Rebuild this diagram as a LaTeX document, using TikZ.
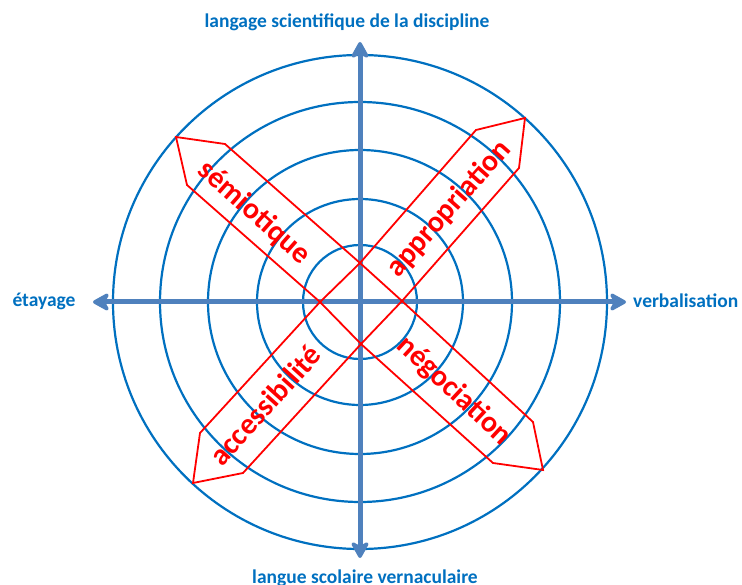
\documentclass[tikz,border=0pt]{standalone}
\usepackage{fontspec}
\setmainfont{Carlito}
\usetikzlibrary{arrows.meta}
\definecolor{ringblue}{HTML}{0070C0}
\definecolor{axisblue}{HTML}{4F81BD}
\definecolor{bandred}{HTML}{FF0000}
\tikzset{
  ring/.style={draw=ringblue, line width=2.2pt},
  axis/.style={draw=axisblue, line width=5pt,
    {Stealth[length=20pt,width=22pt,inset=6pt,round]}-{Stealth[length=20pt,width=22pt,inset=6pt,round]}},
  band/.style={draw=bandred, line width=1.8pt, line join=miter},
  bandlabel/.style={text=bandred, font=\bfseries\fontsize{30}{32}\selectfont, inner sep=0pt},
  axislabel/.style={text=ringblue, font=\bfseries\fontsize{19.5}{22}\selectfont, inner sep=0pt}
}
\begin{document}
\begin{tikzpicture}[x=1pt,y=-1pt]
\useasboundingbox (0,0) rectangle (742,585);
\coordinate (O) at (360,302);
% rings
\foreach \r in {57,103,152,200,247}
  \draw[ring] (O) circle[radius=\r];
% axes
\coordinate (W) at (93,302);
\coordinate (E) at (626,302);
\coordinate (N) at (360,42);
\coordinate (S) at (360,558);
\draw[axis] (W) -- (E);
\draw[axis] (N) -- (S);
% central diamond
\coordinate (T) at (360,263);
\coordinate (R) at (402,301);
\coordinate (B) at (361,344);
\coordinate (L) at (320,302);
% semiotique
\coordinate (s1) at (225,144);
\coordinate (s2) at (176,137);
\coordinate (s3) at (187,185);
\draw[band] (T) -- (s1) -- (s2) -- (s3) -- (L) -- cycle;
% appropriation
\coordinate (a1) at (476,130);
\coordinate (a2) at (525,118);
\coordinate (a3) at (519,168);
\draw[band] (T) -- (a1) -- (a2) -- (a3) -- (R) -- cycle;
% negociation
\coordinate (n1) at (533,422);
\coordinate (n2) at (543,470);
\coordinate (n3) at (493,463);
\draw[band] (R) -- (n1) -- (n2) -- (n3) -- (B) -- cycle;
% accessibilite
\coordinate (c1) at (243,473);
\coordinate (c2) at (193,483);
\coordinate (c3) at (200,433);
\draw[band] (B) -- (c1) -- (c2) -- (c3) -- (L) -- cycle;
% band labels
\node[bandlabel, rotate=-41.5] (lsem) at (254,213) {sémiotique};
\node[bandlabel, rotate=48.5] (lapp) at (449,209) {appropriation};
\node[bandlabel, rotate=-43] (lneg) at (454,391) {négociation};
\node[bandlabel, rotate=48] (lacc) at (265,405) {accessibilité};
% axis labels
\node[axislabel] (ltop) at (347,22) {langage scientifique de la discipline};
\node[axislabel] (lbot) at (365,578) {langue scolaire vernaculaire};
\node[axislabel] (lleft) at (44,301) {étayage};
\node[axislabel, anchor=west] (lright) at (633,301) {verbalisation};
\end{tikzpicture}
\end{document}
